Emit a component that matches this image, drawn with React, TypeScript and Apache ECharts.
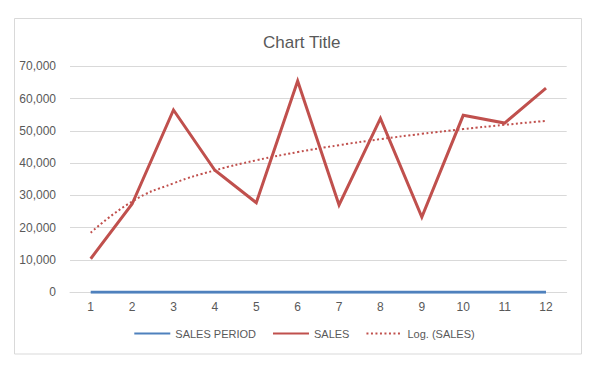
import React, { useEffect, useRef } from "react";
import * as echarts from "echarts";

const CATEGORIES = ["1", "2", "3", "4", "5", "6", "7", "8", "9", "10", "11", "12"];
const SALES_PERIOD = [1, 2, 3, 4, 5, 6, 7, 8, 9, 10, 11, 12];
const SALES = [10400, 27350, 56460, 37800, 27750, 65440, 27040, 53890, 23320, 54820, 52430, 63270];
const Y_MIN = 0;
const Y_MAX = 70000;
const Y_STEP = 10000;

// Logarithmic trendline (least squares of SALES on ln(period)), as Excel computes it
function logTrend(xs: number[], ys: number[]): number[] {
  const n = xs.length;
  const lx = xs.map((x) => Math.log(x));
  const mx = lx.reduce((a, b) => a + b, 0) / n;
  const my = ys.reduce((a, b) => a + b, 0) / n;
  let sxy = 0;
  let sxx = 0;
  for (let i = 0; i < n; i++) {
    sxy += (lx[i] - mx) * (ys[i] - my);
    sxx += (lx[i] - mx) * (lx[i] - mx);
  }
  const b = sxy / sxx;
  const a = my - b * mx;
  return lx.map((l) => a + b * l);
}

const TREND = logTrend(SALES_PERIOD, SALES);

const FONT = "'Liberation Sans', Arial, sans-serif";
const TEXT = "#595959";
const GRID = "#d9d9d9";
const BLUE = "#4F81BD";
const RED = "#C0504D";

export default function App() {
  const ref = useRef<HTMLDivElement>(null);
  useEffect(() => {
    if (!ref.current) return;
    const chart = echarts.init(ref.current, undefined, { renderer: "svg" });
    chart.setOption({
      animation: false,
      backgroundColor: "#ffffff",
      graphic: [
        {
          type: "rect",
          shape: { x: 14.5, y: 18.5, width: 567, height: 335.5 },
          style: { fill: "none", stroke: GRID, lineWidth: 1 },
          silent: true,
        },
      ],
      title: {
        text: "Chart Title",
        left: 258,
        top: 29,
        textStyle: { fontFamily: FONT, fontSize: 17, fontWeight: "normal", color: TEXT },
      },
      grid: { left: 70, right: 41.3, top: 66.3, bottom: 79.7, containLabel: false },
      legend: {
        left: "center",
        top: 328,
        padding: 0,
        itemWidth: 36,
        itemHeight: 12,
        itemGap: 16,
        itemStyle: { opacity: 0 },
        textStyle: { fontFamily: FONT, fontSize: 11, color: TEXT },
        data: ["SALES PERIOD", "SALES", "Log. (SALES)"],
      },
      xAxis: {
        type: "category",
        data: CATEGORIES,
        boundaryGap: true,
        axisLine: { lineStyle: { color: GRID, width: 1 } },
        axisTick: { show: false },
        axisLabel: { fontFamily: FONT, fontSize: 12, color: TEXT, margin: 9 },
      },
      yAxis: {
        type: "value",
        min: Y_MIN,
        max: Y_MAX,
        interval: Y_STEP,
        axisLine: { show: false },
        axisTick: { show: false },
        splitLine: { lineStyle: { color: GRID, width: 1 } },
        axisLabel: {
          fontFamily: FONT,
          fontSize: 12,
          color: TEXT,
          margin: 14,
          formatter: (v: number) => v.toLocaleString("en-US"),
        },
      },
      series: [
        {
          name: "SALES PERIOD",
          type: "line",
          data: SALES_PERIOD,
          symbol: "none",
          lineStyle: { color: BLUE, width: 3 },
          itemStyle: { color: BLUE },
          z: 3,
        },
        {
          name: "SALES",
          type: "line",
          data: SALES,
          symbol: "none",
          lineStyle: { color: RED, width: 3, join: "miter" },
          itemStyle: { color: RED },
          z: 4,
        },
        {
          name: "Log. (SALES)",
          type: "line",
          data: TREND,
          symbol: "none",
          smooth: true,
          lineStyle: { color: RED, width: 2, type: [2, 2.5] },
          itemStyle: { color: RED },
          z: 5,
        },
      ],
    });
    return () => chart.dispose();
  }, []);
  return (
    <div
      ref={ref}
      style={{ position: "fixed", left: 0, top: 0, width: 608, height: 372, background: "#fff" }}
    />
  );
}
